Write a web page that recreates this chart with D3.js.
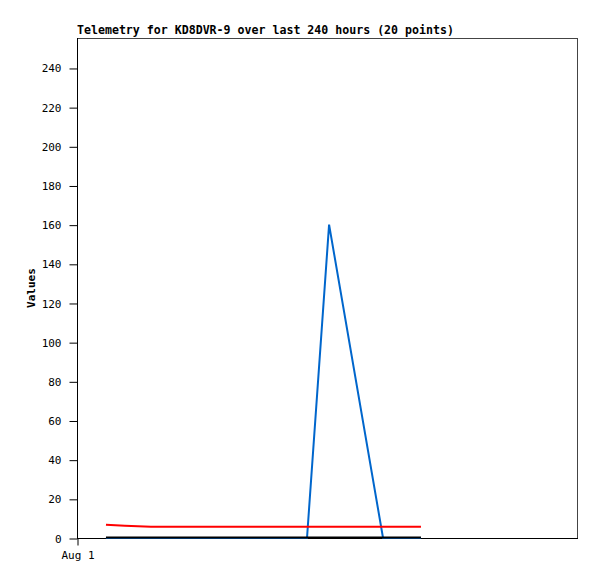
<!DOCTYPE html>
<html><head><meta charset="utf-8">
<script src="https://cdn.jsdelivr.net/npm/d3@7"></script>
<style>body{margin:0;background:#fff}svg{display:block}text{font-family:"DejaVu Sans Mono","Liberation Mono",monospace}</style>
</head><body>
<svg id="c" width="597" height="579"></svg>
<script>
// hours since Aug 1 00:00
const hours = [13.9, 23.0, 35.5, 42, 50, 58, 66, 74, 82, 90, 98, 104, 110.4, 121, 146.9, 151, 155, 159, 162, 165.1];
const blueValues = [0,0,0,0,0,0,0,0,0,0,0,0,0,160,0,0,0,0,0,0];
const redValues = [6.8,6.3,5.8,5.8,5.8,5.8,5.8,5.8,5.8,5.8,5.8,5.8,5.8,5.8,5.8,5.8,5.8,5.8,5.8,5.8];
const blackValues = [0,0,0,0,0,0,0,0,0,0,0,0,0,0,0,0,0,0,0,0];
const yTicks = [0,20,40,60,80,100,120,140,160,180,200,220,240];
const xTickLabels = ["Aug 1"];
const title = "Telemetry for KD8DVR-9 over last 240 hours (20 points)";
const yLabel = "Values";

const L=77,T=38,R=577,B=538;
const svg=d3.select("#c");
const t0=new Date(2020,7,1,0,0,0);
const times=hours.map(h=>new Date(t0.getTime()+h*3600e3));
const x=d3.scaleTime().domain([t0,new Date(t0.getTime()+240*3600e3)]).range([L,R]);
const y=d3.scaleLinear().domain([0,255.3]).range([B,T]);

// frame
svg.append("rect").attr("x",L+0.5).attr("y",T+0.5).attr("width",R-L).attr("height",B-T)
  .attr("fill","none").attr("stroke","#444").attr("stroke-width",1);
svg.append("line").attr("x1",L+0.5).attr("x2",L+0.5).attr("y1",T).attr("y2",B+1).attr("stroke","#000");
svg.append("line").attr("x1",L).attr("x2",R+1).attr("y1",B+0.5).attr("y2",B+0.5).attr("stroke","#000");

// y axis
const ya=svg.append("g").attr("transform",`translate(${L+0.5},0.5)`)
  .call(d3.axisLeft(y).tickValues(yTicks).tickSize(8).tickPadding(8).tickFormat(d3.format("d")));
ya.select(".domain").remove();
ya.selectAll("text").attr("font-size","11px").attr("fill","#000").attr("font-family","DejaVu Sans Mono, monospace");
ya.selectAll("line").attr("stroke","#000");

// x axis
const xa=svg.append("g").attr("transform",`translate(0.5,${B+0.5})`)
  .call(d3.axisBottom(x).tickValues([t0]).tickSize(7).tickPadding(6).tickFormat((d,i)=>xTickLabels[i]));
xa.select(".domain").remove();
xa.selectAll("text").attr("font-size","11px").attr("fill","#000").attr("font-family","DejaVu Sans Mono, monospace");
xa.selectAll("line").attr("stroke","#000");

// series
const line=d3.line().x((d,i)=>x(times[i])).y(d=>y(d));
function draw(vals,color){
  svg.append("path").datum(vals).attr("d",line).attr("fill","none").attr("stroke",color)
    .attr("stroke-width",2).attr("stroke-linejoin","miter");
}
draw(blueValues,"#0066cc");
draw(redValues,"#ff0000");
svg.append("path").datum(blackValues).attr("d",d3.line().x((d,i)=>x(times[i])).y(d=>y(d)-0.5))
  .attr("fill","none").attr("stroke","#000").attr("stroke-width",2);

// title
svg.append("text").attr("x",L).attr("y",T-4).attr("font-size","11.6px").attr("font-weight","bold")
  .attr("fill","#000").text(title);
// y label
svg.append("text").attr("transform",`translate(35,${(T+B)/2}) rotate(-90)`).attr("text-anchor","middle")
  .attr("font-size","11px").attr("font-weight","bold").attr("fill","#000").text(yLabel);
</script>
</body></html>
